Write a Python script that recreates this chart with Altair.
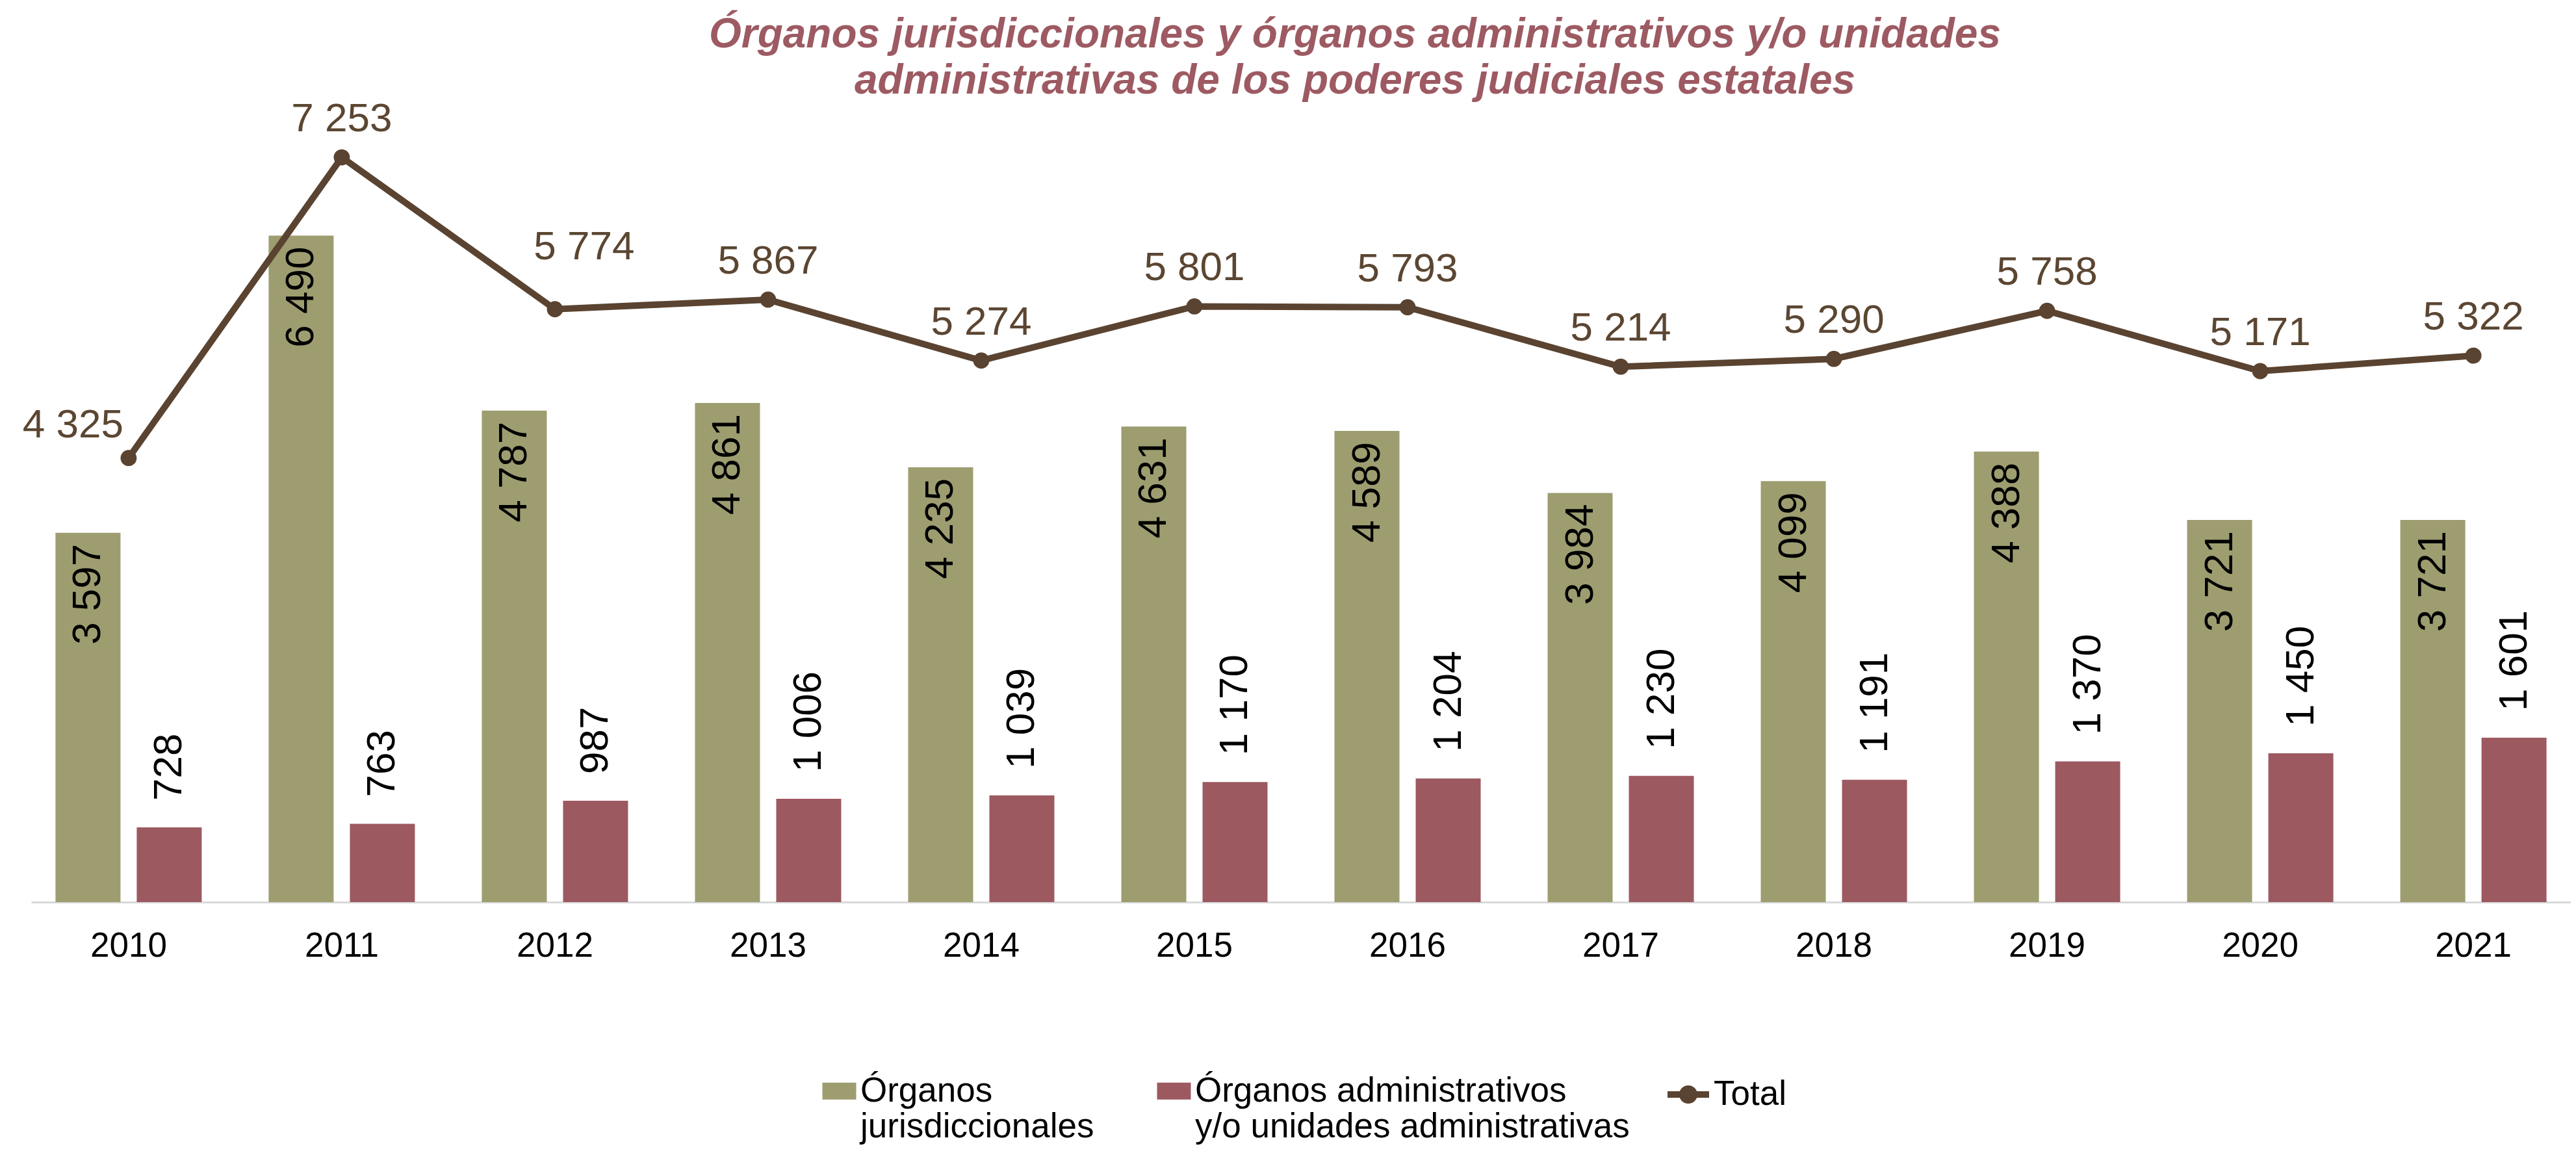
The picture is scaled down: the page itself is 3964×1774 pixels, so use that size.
import altair as alt
import pandas as pd

# ---- data ----
years = ["2010", "2011", "2012", "2013", "2014", "2015",
         "2016", "2017", "2018", "2019", "2020", "2021"]
jurisdiccionales = [3597, 6490, 4787, 4861, 4235, 4631, 4589, 3984, 4099, 4388, 3721, 3721]
administrativos = [728, 763, 987, 1006, 1039, 1170, 1204, 1230, 1191, 1370, 1450, 1601]
totales = [4325, 7253, 5774, 5867, 5274, 5801, 5793, 5214, 5290, 5758, 5171, 5322]
series_names = ["Órganos jurisdiccionales",
                "Órganos administrativos y/o unidades administrativas"]
total_name = "Total"
title_lines = ["Órganos jurisdiccionales y órganos administrativos y/o unidades",
               "administrativas de los poderes judiciales estatales"]

# ---- styles ----
GREEN = "#9D9D70"
RED = "#9D5960"
BROWN = "#5A4330"
LABEL_BROWN = "#5B4632"
TITLE_COLOR = "#9D5A62"
FONT = "Liberation Sans"

bars_df = pd.DataFrame({
    "year": years * 2,
    "series": [series_names[0]] * len(years) + [series_names[1]] * len(years),
    "value": jurisdiccionales + administrativos,
})
tot_df = pd.DataFrame({"year": years, "name": [total_name] * len(years), "value": totales})

lab = "replace(format(datum.value, ','), ',', ' ')"

x_enc = alt.X(
    "year:N", sort=years,
    scale=alt.Scale(paddingInner=0.314, paddingOuter=0.114),
    axis=alt.Axis(title=None, labelAngle=0, ticks=False, labelPadding=41,
                  labelFontSize=53, labelColor="black", labelFont=FONT,
                  domainColor="#D9D9D9", domainWidth=3, grid=False),
)
y_enc = alt.Y("value:Q", scale=alt.Scale(domain=[0, 7709], nice=False, zero=True), axis=None)

base_bars = alt.Chart(bars_df).encode(
    x=x_enc,
    xOffset=alt.XOffset("series:N", sort=series_names, scale=alt.Scale(paddingInner=0.2)),
    y=y_enc,
)

color_legend = alt.Legend(
    title=None, orient="none", legendX=1217, legendY=1482, direction="horizontal",
    symbolType="M-1,-0.5H1V0.5H-1Z", symbolSize=2704, symbolStrokeWidth=0,
    labelFontSize=53, labelFont=FONT, labelColor="black", labelOffset=6,
    labelLimit=3000, columnPadding=96,
    labelExpr=("datum.label == '" + series_names[0] + "' ? ['Órganos', 'jurisdiccionales']"
               " : ['Órganos administrativos', 'y/o unidades administrativas']"),
)

bars = base_bars.mark_bar().encode(
    color=alt.Color("series:N", sort=series_names,
                    scale=alt.Scale(domain=series_names, range=[GREEN, RED]),
                    legend=color_legend)
)

# rotated labels: dx runs along the text (positive = upwards)
green_labels = base_bars.transform_filter(
    alt.datum.series == series_names[0]
).transform_calculate(label=lab).mark_text(
    angle=270, align="right", baseline="middle", dx=-17,
    fontSize=62, font=FONT, color="black"
).encode(text="label:N")

red_labels = base_bars.transform_filter(
    alt.datum.series == series_names[1]
).transform_calculate(label=lab).mark_text(
    angle=270, align="left", baseline="middle", dx=41,
    fontSize=62, font=FONT, color="black"
).encode(text="label:N")

line = alt.Chart(tot_df).mark_line(color=BROWN, strokeWidth=10).encode(x=x_enc, y=y_enc)

total_symbol = ("M-1,-0.16H1V0.16H-1Z "
                "M0.44,0A0.44,0.44,0,1,1,-0.44,0A0.44,0.44,0,1,1,0.44,0Z")
points = alt.Chart(tot_df).mark_point(filled=True, size=616, opacity=1).encode(
    x=x_enc, y=y_enc,
    fill=alt.Fill("name:N", scale=alt.Scale(domain=[total_name], range=[BROWN]),
                  legend=alt.Legend(title=None, orient="none", legendX=2518, legendY=1482,
                                    symbolType=total_symbol, symbolSize=4096,
                                    symbolStrokeWidth=0, labelFontSize=53, labelFont=FONT,
                                    labelColor="black", labelOffset=7)),
)

tot_labels = alt.Chart(tot_df).transform_filter(
    (alt.datum.year != years[0]) & (alt.datum.year != years[2])
).transform_calculate(label=lab).mark_text(
    baseline="middle", align="center", dy=-59, fontSize=62, font=FONT, color=LABEL_BROWN
).encode(x=x_enc, y=y_enc, text="label:N")

tot_first = alt.Chart(tot_df).transform_filter(
    alt.datum.year == years[0]
).transform_calculate(label=lab).mark_text(
    baseline="middle", align="right", dx=-8, dy=-51, fontSize=62, font=FONT, color=LABEL_BROWN
).encode(x=x_enc, y=y_enc, text="label:N")

tot_third = alt.Chart(tot_df).transform_filter(
    alt.datum.year == years[2]
).transform_calculate(label=lab).mark_text(
    baseline="middle", align="center", dx=45, dy=-96, fontSize=62, font=FONT, color=LABEL_BROWN
).encode(x=x_enc, y=y_enc, text="label:N")

chart = alt.layer(
    bars, green_labels, red_labels, line, points, tot_labels, tot_first, tot_third
).properties(
    width=3908, height=1218,
    autosize=alt.AutoSizeParams(type="none"),
    padding={"left": 40, "top": 162, "right": 0, "bottom": 374},
    title=alt.TitleParams(
        text=title_lines, fontSize=64, font=FONT, fontWeight="bold", fontStyle="italic",
        color=TITLE_COLOR, anchor="middle", dx=83, dy=81, frame="group", offset=12,
        baseline="bottom", lineHeight=71,
    ),
).configure_view(stroke=None)

chart.save("out.html", embed_options={"renderer": "svg", "actions": False})
